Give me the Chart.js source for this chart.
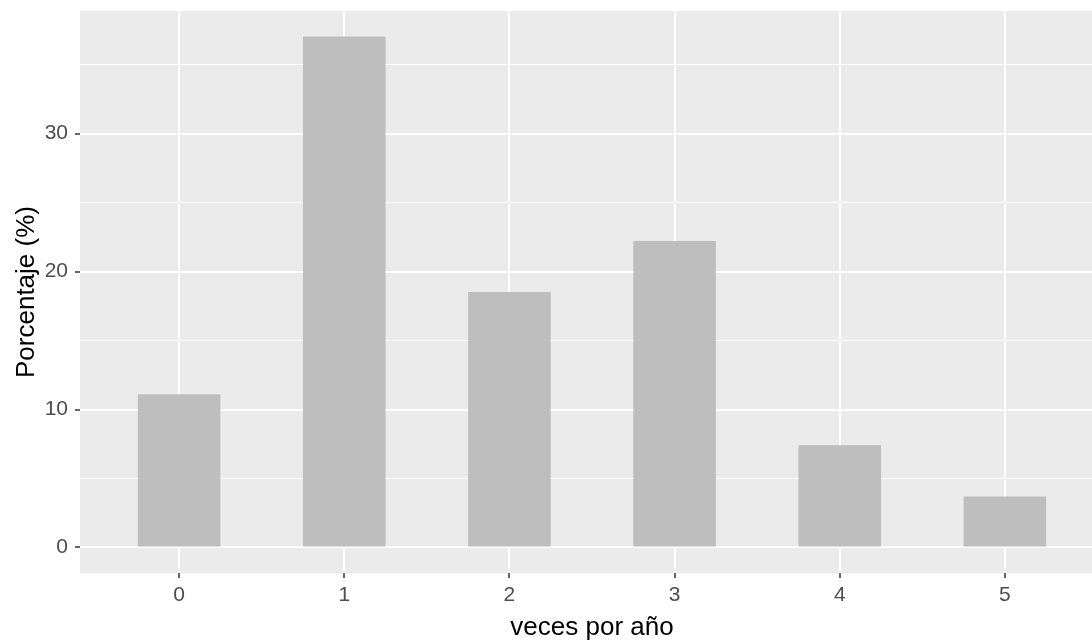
<!DOCTYPE html>
<html>
<head>
<meta charset="utf-8">
<script src="https://cdn.jsdelivr.net/npm/chart.js@4/dist/chart.umd.min.js"></script>
<style>
  html, body { margin: 0; padding: 0; background: #fff; overflow: hidden; }
  #wrap { width: 1115px; height: 643px; position: relative; }
</style>
</head>
<body>
<div id="wrap"><canvas id="c"></canvas></div>
<script>
const categories = [0, 1, 2, 3, 4, 5];
const percentages = [11.11, 37.04, 18.52, 22.22, 7.41, 3.70];
const yMajorTicks = [0, 10, 20, 30];
const yMinorTicks = [5, 15, 25, 35];
const xTitle = 'veces por año';
const yTitle = 'Porcentaje (%)';

const dataMax = Math.max(...percentages);
const yMin = -0.05 * dataMax;
const yMax = 1.05 * dataMax;

const panelBg = {
  id: 'panelBg',
  beforeDraw(chart) {
    const a = chart.chartArea, ctx = chart.ctx;
    ctx.save();
    ctx.fillStyle = '#EBEBEB';
    ctx.fillRect(a.left, a.top, a.right - a.left, a.bottom - a.top);
    ctx.restore();
  }
};

const tickFont = { family: "'Liberation Sans', Arial, sans-serif", size: 21 };
const titleFont = { family: "'Liberation Sans', Arial, sans-serif", size: 26 };

function noEdgePadding(s) {
  s.paddingTop = 0; s.paddingBottom = 0; s.paddingLeft = 0; s.paddingRight = 0;
}

new Chart(document.getElementById('c'), {
  type: 'bar',
  data: {
    datasets: [{
      data: categories.map((c, i) => ({ x: c, y: percentages[i] })),
      backgroundColor: '#BEBEBE',
      borderWidth: 0,
      categoryPercentage: 1,
      barPercentage: 0.5
    }]
  },
  options: {
    responsive: true,
    maintainAspectRatio: false,
    animation: false,
    devicePixelRatio: 1,
    layout: { padding: { top: 11, right: 11, left: 0, bottom: 0 } },
    plugins: { legend: { display: false }, tooltip: { enabled: false } },
    scales: {
      x: {
        type: 'linear',
        offset: false,
        min: -0.6,
        max: 5.6,
        afterBuildTicks: s => { s.ticks = categories.map(v => ({ value: v })); },
        afterFit: s => { s.height = 70; noEdgePadding(s); },
        grid: { offset: false, color: '#FFFFFF', lineWidth: 2, tickColor: '#333333', tickLength: 5, tickWidth: 1.5 },
        border: { display: false },
        ticks: { color: '#4D4D4D', font: tickFont, padding: 5, maxRotation: 0, callback: v => String(v) },
        title: { display: true, text: xTitle, color: '#000000', font: titleFont, padding: { top: 0, bottom: 0 } }
      },
      y: {
        type: 'linear',
        position: 'left',
        min: yMin,
        max: yMax,
        afterBuildTicks: s => { s.ticks = yMajorTicks.map(v => ({ value: v })); },
        afterFit: s => { s.width = 80; noEdgePadding(s); },
        grid: { color: '#FFFFFF', lineWidth: 2, tickColor: '#333333', tickLength: 5, tickWidth: 1.5 },
        border: { display: false },
        ticks: { color: '#4D4D4D', font: tickFont, padding: 7, callback: v => String(v) },
        title: { display: true, text: yTitle, color: '#000000', font: titleFont, padding: { top: 11, bottom: 0 } }
      },
      yMinor: {
        type: 'linear',
        position: 'left',
        min: yMin,
        max: yMax,
        afterBuildTicks: s => { s.ticks = yMinorTicks.map(v => ({ value: v })); },
        afterFit: s => { s.width = 0; noEdgePadding(s); },
        grid: { color: '#FFFFFF', lineWidth: 1, drawTicks: false },
        border: { display: false },
        ticks: { display: false }
      }
    }
  },
  plugins: [panelBg]
});
</script>
</body>
</html>
